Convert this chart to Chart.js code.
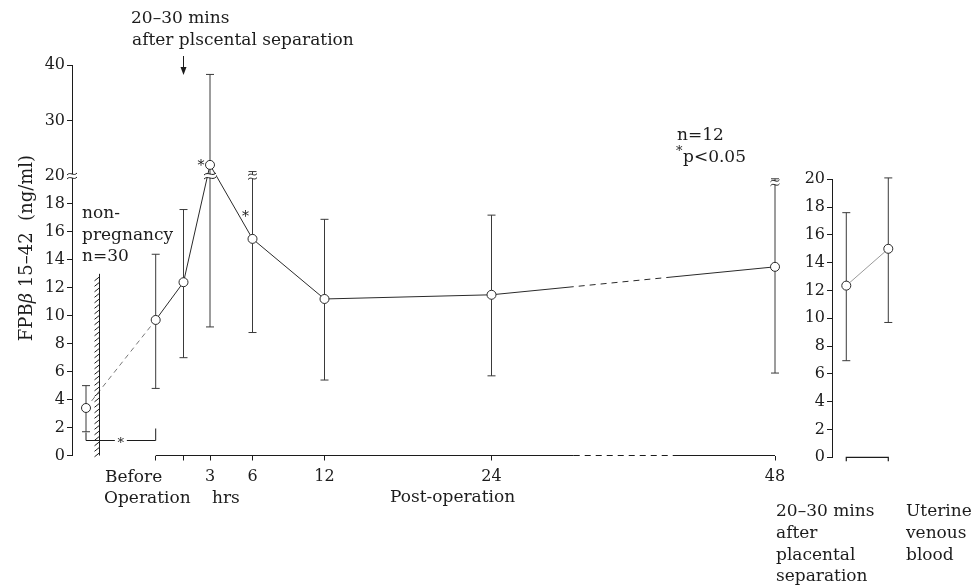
<!DOCTYPE html>
<html>
<head>
<meta charset="utf-8">
<script src="https://cdn.jsdelivr.net/npm/chart.js@4.4.1/dist/chart.umd.min.js"></script>
<style>
html, body { margin: 0; padding: 0; background: #ffffff; }
#wrap { position: relative; width: 974px; height: 586px; overflow: hidden; }
canvas { position: absolute; top: 0; }
</style>
</head>
<body>
<div id="wrap">
  <canvas id="main" width="974" height="586" style="left:0;width:974px;height:586px"></canvas>
  <canvas id="side" width="204" height="586" style="left:770px;width:204px;height:586px"></canvas>
</div>
<script>
// ---------------- DATA ----------------
const sampleLabels = ['non-pregnancy', 'Before Operation', '20–30 mins after placental separation', '3 hrs', '6 hrs', '12 hrs', '24 hrs', '48 hrs'];
const sampleHours  = [-1, 0, 0.5, 3, 6, 12, 24, 48];
const meanValues   = [3.4, 9.7, 12.4, 22.0, 15.5, 11.2, 11.5, 13.5];
const upperValues  = [5.0, 14.4, 17.6, 38.3, 20.8, 16.9, 17.2, 19.8];
const lowerValues  = [1.7, 4.8, 7.0, 9.2, 8.8, 5.4, 5.7, 5.9];
const yTickValues  = [0, 2, 4, 6, 8, 10, 12, 14, 16, 18, 20, 30, 40];
const xTickHours   = [0, 0.5, 3, 6, 12, 24, 48];
const xTickLabels  = ['', '', '3', '6', '12', '24', '48'];

const sideLabels = ['20–30 mins after placental separation', 'Uterine venous blood'];
const sidePositions = [0, 1];
const sideMeans = [12.35, 15.0];
const sideUpper = [17.6, 20.1];
const sideLower = [6.95, 9.7];
const sideTickValues = [0, 2, 4, 6, 8, 10, 12, 14, 16, 18, 20];

// ---------------- STYLE ----------------
const FONT = '"DejaVu Serif", "Liberation Serif", serif';
const FS = 16;   // tick labels
const AS = 17;   // annotations
const INK = '#1c1c1c';

// Piecewise-linear (broken) axis built on Chart.js LinearScale
function makePiecewise(id, knots) {
  const last = knots[knots.length - 1][1];
  class PiecewiseScale extends Chart.LinearScale {
    _dec(v) {
      for (let i = 0; i < knots.length - 1; i++) {
        const [v0, u0] = knots[i], [v1, u1] = knots[i + 1];
        if (v <= v1 || i === knots.length - 2) return (u0 + (v - v0) * (u1 - u0) / (v1 - v0)) / last;
      }
      return 0;
    }
    getPixelForValue(v) {
      if (v === null || v === undefined || isNaN(v)) return NaN;
      return this.getPixelForDecimal(this._dec(v));
    }
    getValueForPixel(p) {
      const u = this.getDecimalForPixel(p) * last;
      for (let i = 0; i < knots.length - 1; i++) {
        const [v0, u0] = knots[i], [v1, u1] = knots[i + 1];
        if (u <= u1 || i === knots.length - 2) return v0 + (u - u0) * (v1 - v0) / (u1 - u0);
      }
      return 0;
    }
  }
  PiecewiseScale.id = id;
  PiecewiseScale.defaults = Chart.LinearScale.defaults;
  return PiecewiseScale;
}
// axis geometry (value -> distance along axis)
Chart.register(
  makePiecewise('pwX', [[-2, 0], [-1, 14], [0, 83.7], [0.5, 111.5], [3, 138], [6, 180.5], [12, 252.5], [24, 419.5], [48, 703]]),
  makePiecewise('pwY', [[0, 0], [20, 279.5], [40, 390.5]])
);

function text(ctx, s, x, y, align, size, style) {
  ctx.save();
  ctx.font = (style || '') + ' ' + (size || AS) + 'px ' + FONT;
  ctx.fillStyle = INK;
  ctx.textAlign = align || 'left';
  ctx.textBaseline = 'middle';
  ctx.fillText(s, x, y);
  ctx.restore();
}
function breakMark(ctx, cx, cy, w) {
  ctx.save();
  ctx.fillStyle = '#fff';
  ctx.fillRect(cx - w / 2, cy - 2, w, 4);
  ctx.strokeStyle = INK;
  ctx.lineWidth = 1;
  [-2, 2].forEach(d => {
    ctx.beginPath();
    ctx.moveTo(cx - w / 2, cy + d + 1);
    ctx.bezierCurveTo(cx - w / 6, cy + d - 3, cx + w / 6, cy + d + 3, cx + w / 2, cy + d - 1);
    ctx.stroke();
  });
  ctx.restore();
}
function errorBars(ctx, xs, ys, xv, hi, lo, color) {
  ctx.save();
  ctx.strokeStyle = color;
  ctx.lineWidth = 1;
  for (let i = 0; i < xv.length; i++) {
    const x = xs.getPixelForValue(xv[i]);
    const yh = ys.getPixelForValue(hi[i]);
    const yl = ys.getPixelForValue(lo[i]);
    ctx.beginPath();
    ctx.moveTo(x, yh); ctx.lineTo(x, yl);
    ctx.moveTo(x - 4, yh); ctx.lineTo(x + 4, yh);
    ctx.moveTo(x - 4, yl); ctx.lineTo(x + 4, yl);
    ctx.stroke();
  }
  ctx.restore();
}
function breakDash(p0, p1) {
  const L = Math.hypot(p1.x - p0.x, p1.y - p0.y);
  const s1 = L * 0.29, zEnd = L * 0.63;
  const pat = [s1, 5];
  let pos = s1 + 5;
  while (pos + 11 < zEnd) { pat.push(6, 5); pos += 11; }
  pat.push(L - pos + 10, 0);
  return pat;
}

const mainDecor = {
  id: 'mainDecor',
  beforeDatasetsDraw(chart) {
    const { ctx, scales: { x, y } } = chart;
    errorBars(ctx, x, y, sampleHours, upperValues, lowerValues, '#3a3a3a');
  },
  afterDatasetsDraw(chart) {
    const { ctx, scales: { x, y } } = chart;
    // break marks on truncated values
    breakMark(ctx, x.getPixelForValue(3), y.getPixelForValue(20), 12);
    breakMark(ctx, x.getPixelForValue(6), y.getPixelForValue(upperValues[4]) + 5, 9);
    breakMark(ctx, x.getPixelForValue(48), y.getPixelForValue(upperValues[7]) + 4, 9);
    // y-axis break
    breakMark(ctx, chart.chartArea.left, y.getPixelForValue(20), 10);
    // significance stars
    text(ctx, '*', x.getPixelForValue(3) - 9, y.getPixelForValue(meanValues[3]) + 1, 'center', 14);
    text(ctx, '*', x.getPixelForValue(6) - 7, y.getPixelForValue(meanValues[4]) - 22, 'center', 14);
  },
  afterDraw(chart) {
    const { ctx, scales: { x, y } } = chart;
    const yb = chart.chartArea.bottom;
    ctx.save();
    ctx.strokeStyle = INK;
    ctx.lineWidth = 1.2;
    // time axis line with dashed break between 24 and 48 h
    const x0 = x.getPixelForValue(0), x24 = x.getPixelForValue(24), x48 = x.getPixelForValue(48);
    const b1 = x24 + (x48 - x24) * 0.29, b2 = x24 + (x48 - x24) * 0.64;
    ctx.beginPath(); ctx.moveTo(x0, yb); ctx.lineTo(b1, yb); ctx.stroke();
    ctx.setLineDash([6, 5]);
    ctx.beginPath(); ctx.moveTo(b1, yb); ctx.lineTo(b2, yb); ctx.stroke();
    ctx.setLineDash([]);
    ctx.beginPath(); ctx.moveTo(b2, yb); ctx.lineTo(x48, yb); ctx.stroke();

    // hatched non-pregnancy marker
    ctx.lineWidth = 1;
    const hx = x.getPixelForValue(-1) + 13.5;
    const hTop = y.getPixelForValue(13);
    ctx.beginPath(); ctx.moveTo(hx, hTop); ctx.lineTo(hx, yb); ctx.stroke();
    ctx.beginPath();
    for (let yy = hTop + 4; yy < yb; yy += 5.5) { ctx.moveTo(hx - 5, yy + 3); ctx.lineTo(hx, yy - 1); }
    ctx.stroke();

    // significance bracket non-pregnancy vs before operation
    const bx0 = x.getPixelForValue(-1), bx1 = x.getPixelForValue(0), by = yb - 15;
    ctx.beginPath();
    ctx.moveTo(bx0, by - 8); ctx.lineTo(bx0, by); ctx.lineTo((bx0 + bx1) / 2 - 6, by);
    ctx.moveTo((bx0 + bx1) / 2 + 6, by); ctx.lineTo(bx1, by); ctx.lineTo(bx1, by - 12);
    ctx.stroke();
    text(ctx, '*', (bx0 + bx1) / 2, by + 3, 'center', 13);

    // arrow for placental separation
    const ax = x.getPixelForValue(0.5);
    ctx.beginPath(); ctx.moveTo(ax, 56); ctx.lineTo(ax, 69); ctx.stroke();
    ctx.fillStyle = INK;
    ctx.beginPath(); ctx.moveTo(ax - 3, 67); ctx.lineTo(ax + 3, 67); ctx.lineTo(ax, 75); ctx.closePath(); ctx.fill();
    ctx.restore();

    // annotations
    text(ctx, '20–30 mins', 131, 19);
    text(ctx, 'after plscental separation', 132, 41);
    text(ctx, 'non-', 82, 214);
    text(ctx, 'pregnancy', 82, 236);
    text(ctx, 'n=30', 82, 257);
    text(ctx, 'n=12', 677, 136);
    text(ctx, '*', 676, 152, 'left', 13);
    text(ctx, 'p<0.05', 683, 158);
    text(ctx, 'Before', 105, 478);
    text(ctx, 'Operation', 104, 499);
    text(ctx, 'hrs', 212, 499);
    text(ctx, 'Post-operation', 390, 498);

    // y-axis title (rotated)
    ctx.save();
    ctx.translate(27, 248);
    ctx.rotate(-Math.PI / 2);
    ctx.fillStyle = INK;
    ctx.textBaseline = 'middle';
    const TS = 18;
    const parts = [['FPB', ''], ['β', 'italic'], [' 15–42  (ng/ml)', '']];
    let tw = 0;
    parts.forEach(p => { ctx.font = p[1] + ' ' + TS + 'px ' + FONT; tw += ctx.measureText(p[0]).width; });
    let px = -tw / 2;
    parts.forEach(p => { ctx.font = p[1] + ' ' + TS + 'px ' + FONT; ctx.textAlign = 'left'; ctx.fillText(p[0], px, 0); px += ctx.measureText(p[0]).width; });
    ctx.restore();
  }
};

new Chart(document.getElementById('main'), {
  type: 'line',
  data: {
    labels: sampleLabels,
    datasets: [{
      data: sampleHours.map((h, i) => ({ x: h, y: meanValues[i] })),
      borderColor: '#2a2a2a',
      borderWidth: 1,
      pointRadius: 4.5,
      pointBackgroundColor: '#ffffff',
      pointBorderColor: '#2a2a2a',
      pointBorderWidth: 1,
      tension: 0,
      clip: false,
      segment: {
        borderDash: ctx => ctx.p0DataIndex === 0 ? [5, 4] : (ctx.p0DataIndex === 6 ? breakDash(ctx.p0, ctx.p1) : undefined),
        borderColor: ctx => ctx.p0DataIndex === 0 ? '#777777' : undefined
      }
    }]
  },
  options: {
    responsive: false,
    animation: false,
    devicePixelRatio: 1,
    layout: { padding: { left: 0, right: 974 - 775, top: 65, bottom: 90.5 } },
    plugins: { legend: { display: false }, tooltip: { enabled: false } },
    scales: {
      x: {
        type: 'pwX', min: -2, max: 48,
        afterBuildTicks: s => { s.ticks = xTickHours.map(v => ({ value: v })); },
        afterFit: s => { s.height = 40; },
        border: { display: false },
        grid: { drawOnChartArea: false, drawTicks: true, tickLength: 5, color: INK },
        ticks: {
          autoSkip: false, maxRotation: 0, padding: 7, color: INK,
          font: { family: FONT, size: FS },
          callback: v => { const i = xTickHours.indexOf(v); return i >= 0 ? xTickLabels[i] : ''; }
        }
      },
      y: {
        type: 'pwY', min: 0, max: 40,
        afterBuildTicks: s => { s.ticks = yTickValues.map(v => ({ value: v })); },
        afterFit: s => { s.width = 72; },
        border: { display: true, color: INK, width: 1 },
        grid: { drawOnChartArea: false, drawTicks: true, tickLength: 5, color: INK },
        ticks: { padding: 2, color: INK, font: { family: FONT, size: FS }, callback: v => String(v) }
      }
    }
  },
  plugins: [mainDecor]
});

const sideDecor = {
  id: 'sideDecor',
  beforeDatasetsDraw(chart) {
    const { ctx, scales: { x, y } } = chart;
    errorBars(ctx, x, y, sidePositions, sideUpper, sideLower, '#3a3a3a');
  },
  afterDraw(chart) {
    const { ctx, scales: { x } } = chart;
    const yb = chart.chartArea.bottom;
    const a = x.getPixelForValue(0), b = x.getPixelForValue(1);
    ctx.save();
    ctx.strokeStyle = INK; ctx.lineWidth = 1.2;
    ctx.beginPath(); ctx.moveTo(a, yb + 4); ctx.lineTo(a, yb); ctx.lineTo(b, yb); ctx.lineTo(b, yb + 4); ctx.stroke();
    ctx.restore();
    text(ctx, '20–30 mins', 6, 512);
    text(ctx, 'after', 6, 534);
    text(ctx, 'placental', 6, 556);
    text(ctx, 'separation', 6, 577);
    text(ctx, 'Uterine', 136, 512);
    text(ctx, 'venous', 136, 534);
    text(ctx, 'blood', 136, 556);
  }
};

new Chart(document.getElementById('side'), {
  type: 'line',
  data: {
    labels: sideLabels,
    datasets: [{
      data: sidePositions.map((p, i) => ({ x: p, y: sideMeans[i] })),
      borderColor: '#9a9a9a',
      borderWidth: 1,
      pointRadius: 4.5,
      pointBackgroundColor: '#ffffff',
      pointBorderColor: '#2a2a2a',
      pointBorderWidth: 1,
      clip: false
    }]
  },
  options: {
    responsive: false,
    animation: false,
    devicePixelRatio: 1,
    layout: { padding: { left: 0, right: 60.5, top: 179.3, bottom: 128.7 } },
    plugins: { legend: { display: false }, tooltip: { enabled: false } },
    scales: {
      x: { type: 'linear', min: -0.34, max: 1.6, display: false },
      y: {
        type: 'linear', min: 0, max: 20,
        afterBuildTicks: s => { s.ticks = sideTickValues.map(v => ({ value: v })); },
        afterFit: s => { s.width = 62; },
        border: { display: true, color: INK, width: 1 },
        grid: { drawOnChartArea: false, drawTicks: true, tickLength: 5, color: INK },
        ticks: { padding: 2, color: INK, font: { family: FONT, size: FS } }
      }
    }
  },
  plugins: [sideDecor]
});
</script>
</body>
</html>
